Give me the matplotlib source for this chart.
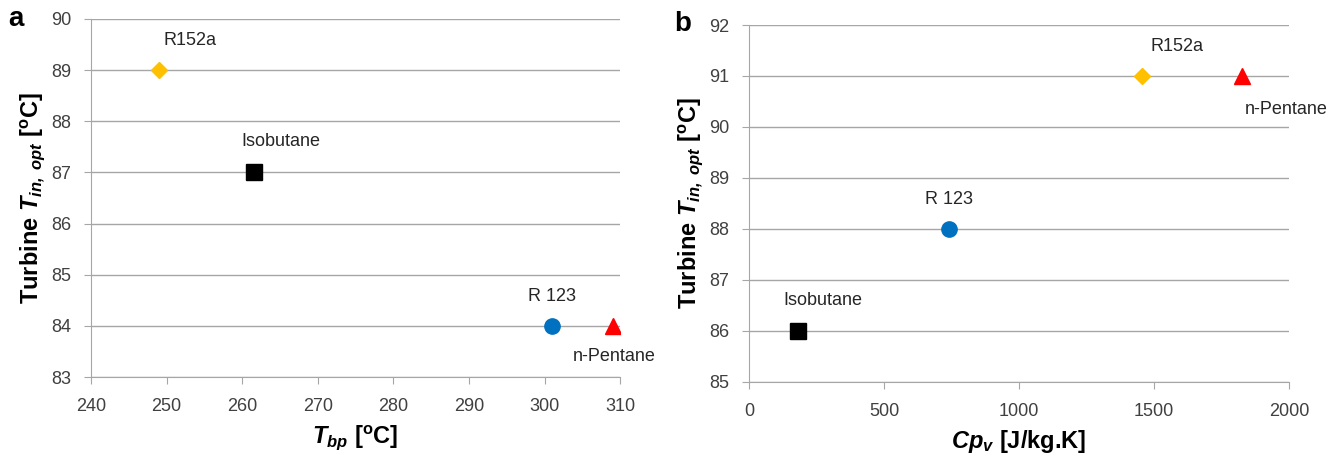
import matplotlib
matplotlib.use("Agg")
import matplotlib.pyplot as plt

fluids = ["R152a", "Isobutane", "R 123", "n-Pentane"]
colors = ["#FFC000", "#000000", "#0070C0", "#FF0000"]
markers = ["D", "s", "o", "^"]
msizes = [8, 11, 11, 11]

tbp = [249, 261.5, 301, 309]
tin_a = [89, 87, 84, 84]
cpv = [180, 740, 1455, 1825]
cpv_fluids = ["Isobutane", "R 123", "R152a", "n-Pentane"]
tin_b = [86, 88, 91, 91]

xticks_a = [240, 250, 260, 270, 280, 290, 300, 310]
yticks_a = [83, 84, 85, 86, 87, 88, 89, 90]
xticks_b = [0, 500, 1000, 1500, 2000]
yticks_b = [85, 86, 87, 88, 89, 90, 91, 92]

FONT = 'Liberation Sans'
plt.rcParams['font.family'] = [FONT, 'DejaVu Sans']
plt.rcParams['mathtext.fontset'] = 'custom'
plt.rcParams['mathtext.rm'] = FONT
plt.rcParams['mathtext.it'] = FONT + ':italic'
plt.rcParams['mathtext.bf'] = FONT + ':bold'
plt.rcParams['mathtext.bfit'] = FONT + ':bold:italic'

fig = plt.figure(figsize=(13.41, 4.63), dpi=100)
ax1 = fig.add_axes([0.0679, 0.1857, 0.3945, 0.7733])
ax2 = fig.add_axes([0.5585, 0.175, 0.4027, 0.771])

def style(ax):
    for s in ["top", "right"]:
        ax.spines[s].set_visible(False)
    for s in ["left", "bottom"]:
        ax.spines[s].set_color("#A6A6A6")
    ax.grid(axis="y", color="#A6A6A6", linewidth=1)
    ax.set_axisbelow(True)
    ax.tick_params(colors="#A6A6A6", labelcolor="#404040", labelsize=13, length=5)
    ax.tick_params(axis="x", pad=10)
    ax.tick_params(axis="y", pad=9)

name_idx = {n: i for i, n in enumerate(fluids)}

# panel a
style(ax1)
for n, x, y in zip(fluids, tbp, tin_a):
    i = name_idx[n]
    ax1.plot(x, y, marker=markers[i], color=colors[i], markersize=msizes[i], linestyle="none", zorder=3)
ax1.set_xlim(240, 310)
ax1.set_ylim(83, 90)
ax1.set_xticks(xticks_a)
ax1.set_yticks(yticks_a)
offsets_a = {"R152a": (22, 21), "Isobutane": (20, 22), "R 123": (0, 21), "n-Pentane": (1, -22)}
for n, x, y in zip(fluids, tbp, tin_a):
    dx, dy = offsets_a[n]
    ax1.annotate(n, (x, y), xytext=(dx, dy), textcoords="offset points",
                 ha="center", va="center", fontsize=13, color="#262626")
ax1.set_xlabel(r"$\mathbfit{T}_{\mathbfit{bp}}$ [$^{\mathbf{o}}$C]", fontsize=17, fontweight="bold", labelpad=6)
ax1.set_ylabel(r"Turbine $\mathbfit{T}_{\mathbfit{in,\ opt}}$ [$^{\mathbf{o}}$C]", fontsize=17, fontweight="bold", labelpad=3)
fig.text(0.006, 0.958, "a", fontsize=20, fontweight="bold", ha="left", va="center")

# panel b
style(ax2)
for n, x, y in zip(cpv_fluids, cpv, tin_b):
    i = name_idx[n]
    ax2.plot(x, y, marker=markers[i], color=colors[i], markersize=msizes[i], linestyle="none", zorder=3)
ax2.set_xlim(0, 2000)
ax2.set_ylim(85, 92)
ax2.set_xticks(xticks_b)
ax2.set_yticks(yticks_b)
offsets_b = {"R152a": (25, 21), "Isobutane": (18, 22), "R 123": (0, 21), "n-Pentane": (32, -24)}
for n, x, y in zip(cpv_fluids, cpv, tin_b):
    dx, dy = offsets_b[n]
    ax2.annotate(n, (x, y), xytext=(dx, dy), textcoords="offset points",
                 ha="center", va="center", fontsize=13, color="#262626")
ax2.set_xlabel(r"$\mathbfit{Cp}_{\mathbfit{v}}$ [J/kg.K]", fontsize=17, fontweight="bold", labelpad=6)
ax2.set_ylabel(r"Turbine $\mathbfit{T}_{\mathbfit{in,\ opt}}$ [$^{\mathbf{o}}$C]", fontsize=17, fontweight="bold", labelpad=3)
fig.text(0.503, 0.948, "b", fontsize=20, fontweight="bold", ha="left", va="center")

fig.savefig("out.png", dpi=100)
